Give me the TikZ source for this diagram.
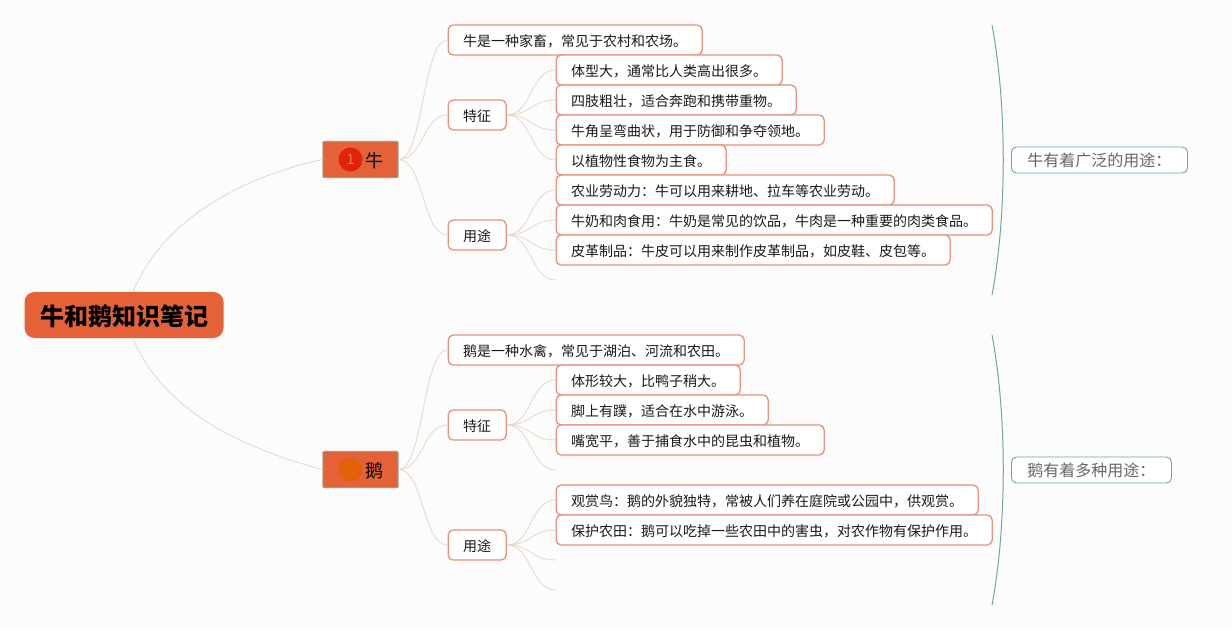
\documentclass[tikz,border=0pt]{standalone}
\usepackage{fontspec}
\setmainfont{Noto Sans CJK SC}
\definecolor{paper}{HTML}{FCFCFC}
\definecolor{mainfill}{HTML}{E56239}
\definecolor{boxline}{HTML}{E8917A}
\definecolor{linkline}{HTML}{E8DAC6}
\definecolor{noteline}{HTML}{6FA898}
\definecolor{topicline}{HTML}{94A08C}
\definecolor{badgeone}{HTML}{E0230A}
\definecolor{badgetwo}{HTML}{E36209}
\tikzset{
    rootbox/.style={fill=mainfill, rounded corners=10pt, minimum height=46pt, inner xsep=15pt, inner ysep=0pt, text height=21.5pt, text depth=1.5pt, font=\fontsize{24}{28}\selectfont\bfseries, text=black},
    topicbox/.style={fill=mainfill, draw=topicline, line width=1.3pt, rounded corners=1pt, minimum width=75pt, minimum height=36pt, inner sep=0pt, text height=17.5pt, text depth=0.9pt, font=\fontsize{18}{22}\selectfont},
    itembox/.style={anchor=west, fill=white, draw=boxline, line width=1.3pt, rounded corners=5pt, minimum height=30pt, inner xsep=15pt, inner ysep=0pt, text height=13.5pt, text depth=0.9pt, font=\fontsize{14}{17}\selectfont, text=black!90},
    notebox/.style={anchor=west, fill=white, draw=noteline, line width=0.9pt, rounded corners=5pt, minimum height=26pt, inner xsep=16pt, inner ysep=0pt, font=\fontsize{16}{19}\selectfont, text=black!60},
    badge/.style={circle, minimum size=24pt, inner sep=0pt, font=\fontsize{14}{16}\selectfont},
    link/.style={draw=linkline, line width=0.9pt},
    bracket/.style={draw=noteline, line width=1pt}
}
\begin{document}
\begin{tikzpicture}[x=1pt, y=-1pt]
    \fill[paper] (0,0) rectangle (1232,630);
    \useasboundingbox (0,0) rectangle (1232,630);

    % Root and the two topics
    \node[rootbox] (root) at (124,315) {\hspace{1pt}牛和鹅知识笔记};
    \node[topicbox] (niu) at (360.5,159.5) {\hspace{27pt}牛};
    \node[topicbox] (goose) at (360.5,469.5) {\hspace{27pt}鹅};
    \node[badge, fill=badgeone, text=mainfill!80!white] (niuBadge) at (350.5,159.5) {1};
    \node[badge, fill=badgetwo, text=badgetwo!97!white] (gooseBadge) at (350.5,469.5) {2};

    % Cow branch
    \node[itembox] (niuIntro) at (447.5,40) {牛是一种家畜，常见于农村和农场。};
    \node[itembox] (niuTrait) at (447.5,115) {特征};
    \node[itembox] (niuUse) at (447.5,235) {用途};
    \node[itembox] (niuT1) at (555.5,70) {体型大，通常比人类高出很多。};
    \node[itembox] (niuT2) at (555.5,100) {四肢粗壮，适合奔跑和携带重物。};
    \node[itembox] (niuT3) at (555.5,130) {牛角呈弯曲状，用于防御和争夺领地。};
    \node[itembox] (niuT4) at (555.5,160) {以植物性食物为主食。};
    \node[itembox] (niuU1) at (555.5,190) {农业劳动力：牛可以用来耕地、拉车等农业劳动。};
    \node[itembox] (niuU2) at (555.5,220) {牛奶和肉食用：牛奶是常见的饮品，牛肉是一种重要的肉类食品。};
    \node[itembox] (niuU3) at (555.5,250) {皮革制品：牛皮可以用来制作皮革制品，如皮鞋、皮包等。};
    \coordinate (niuU4) at (555.5,280);

    % Goose branch
    \node[itembox] (gooseIntro) at (447.5,350) {鹅是一种水禽，常见于湖泊、河流和农田。};
    \node[itembox] (gooseTrait) at (447.5,425) {特征};
    \node[itembox] (gooseUse) at (447.5,545) {用途};
    \node[itembox] (gooseT1) at (555.5,380) {体形较大，比鸭子稍大。};
    \node[itembox] (gooseT2) at (555.5,410) {脚上有蹼，适合在水中游泳。};
    \node[itembox] (gooseT3) at (555.5,440) {嘴宽平，善于捕食水中的昆虫和植物。};
    \coordinate (gooseT4) at (555.5,470);
    \node[itembox] (gooseU1) at (555.5,500) {观赏鸟：鹅的外貌独特，常被人们养在庭院或公园中，供观赏。};
    \node[itembox] (gooseU2) at (555.5,530) {保护农田：鹅可以吃掉一些农田中的害虫，对农作物有保护作用。};
    \coordinate (gooseU3) at (555.5,560);
    \coordinate (gooseU4) at (555.5,590);

    % Links
    \draw[link] (root.69) .. controls (165,215) and (250,175) .. (niu.west);
    \draw[link] (root.-69) .. controls (165,415) and (250,450) .. (goose.west);
    \foreach \from/\to in {niu/niuIntro, niu/niuTrait, niu/niuUse,
        niuTrait/niuT1, niuTrait/niuT2, niuTrait/niuT3, niuTrait/niuT4,
        niuUse/niuU1, niuUse/niuU2, niuUse/niuU3, niuUse/niuU4,
        goose/gooseIntro, goose/gooseTrait, goose/gooseUse,
        gooseTrait/gooseT1, gooseTrait/gooseT2, gooseTrait/gooseT3, gooseTrait/gooseT4,
        gooseUse/gooseU1, gooseUse/gooseU2, gooseUse/gooseU3, gooseUse/gooseU4}
        \draw[link] (\from.east) .. controls +(25,0) and +(-25,0) .. (\to.west);

    % Summaries
    \coordinate (niuTop) at (992,25);
    \coordinate (niuEnd) at (992,295);
    \coordinate (gooseTop) at (992,335);
    \coordinate (gooseEnd) at (992,605);
    \draw[bracket] (niuTop) .. controls (1007,105) and (1007,215) .. (niuEnd);
    \draw[bracket] (gooseTop) .. controls (1007,415) and (1007,525) .. (gooseEnd);
    \node[notebox] (niuNote) at (1011,160) {牛有着广泛的用途：};
    \node[notebox] (gooseNote) at (1011,470) {鹅有着多种用途：};
\end{tikzpicture}
\end{document}
